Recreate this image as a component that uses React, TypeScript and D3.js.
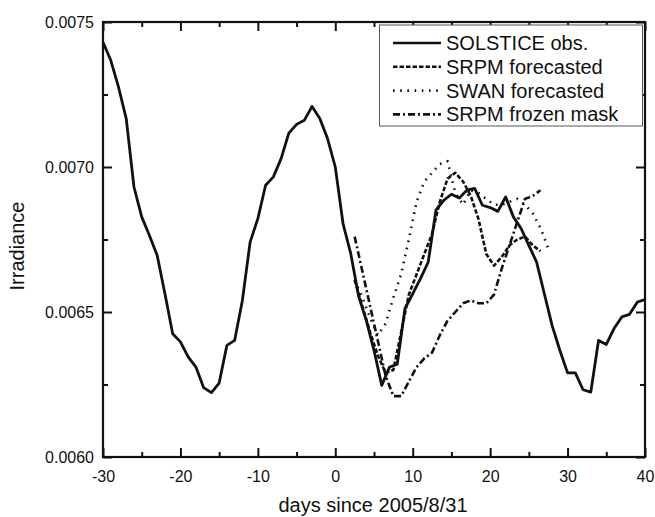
import React from 'react';
import * as d3 from 'd3';

const obsDays = [
  -30, -29, -28, -27, -26, -25, -24, -23, -22, -21, -20, -19, -18, -17, -16, -15, -14, -13, -12, -11,
  -10, -9, -8, -7, -6, -5, -4, -3, -2, -1, 0, 1, 2, 3, 4, 5, 6, 7, 8, 9,
  10, 11, 12, 13, 14, 15, 16, 17, 18, 19, 20, 21, 22, 23, 24, 25, 26, 27, 28, 29,
  30, 31, 32, 33, 34, 35, 36, 37, 38, 39, 40,
];
const solsticeObs = [
  0.00743, 0.007368, 0.007276, 0.007167, 0.006931, 0.006828, 0.006764, 0.006695, 0.006563, 0.006425,
  0.006397, 0.006345, 0.00631, 0.006239, 0.006222, 0.006255, 0.006385, 0.006402, 0.00654, 0.006741,
  0.006822, 0.006937, 0.006966, 0.007029, 0.007117, 0.007147, 0.007161, 0.007209, 0.007167, 0.007098,
  0.0070, 0.006805, 0.006701, 0.006556, 0.006471, 0.006368, 0.006247, 0.00631, 0.00632, 0.006512,
  0.006563, 0.006615, 0.006672, 0.006851, 0.006885, 0.006906, 0.006893, 0.00692, 0.006926, 0.006868,
  0.00686, 0.006847, 0.006897, 0.006828, 0.006788, 0.00673, 0.006672, 0.006563, 0.006454, 0.006368,
  0.00629, 0.00629, 0.006232, 0.006224, 0.006402, 0.006388, 0.006443, 0.006483, 0.006492, 0.006534,
  0.006543,
];

const forecastDays = [
  2.5, 3.5, 4.5, 5.5, 6.5, 7.5, 8.5, 9.5, 10.5, 11.5, 12.5, 13.5, 14.5, 15.5, 16.5, 17.5, 18.5,
  19.5, 20.5, 21.5, 22.5, 23.5, 24.5, 25.5, 26.5,
];
const swanDays = [
  2.5, 3.5, 4.5, 5.5, 6.5, 7.5, 8.5, 9.5, 10.5, 11.5, 12.5, 13.5, 14.5, 15.5, 16.5, 17.5, 18.5,
  19.5, 20.5, 21.5, 22.5, 23.5, 24.5, 25.5, 26.5, 27.5,
];
const srpmForecast = [
  0.00661, 0.00652, 0.00643, 0.00635, 0.00629, 0.0063, 0.00643, 0.00656, 0.00663, 0.0067, 0.00677,
  0.00688, 0.00696, 0.00698, 0.00695, 0.0069, 0.00682, 0.0067, 0.00666, 0.00669, 0.00673, 0.00675,
  0.00676, 0.00673, 0.00671,
];
const swanForecast = [
  0.00661, 0.00655, 0.00648, 0.00642, 0.00646, 0.00655, 0.00663, 0.00675, 0.00688, 0.00695, 0.00698,
  0.00701, 0.00702, 0.00691, 0.00687, 0.00692, 0.00691, 0.00689, 0.00687, 0.00687, 0.00688, 0.00689,
  0.00687, 0.00684, 0.00679, 0.00672,
];
const srpmFrozen = [
  0.00676, 0.00664, 0.00652, 0.0064, 0.00628, 0.00621, 0.00621, 0.00626, 0.00631, 0.00634, 0.00636,
  0.00642, 0.00647, 0.0065, 0.00653, 0.00654, 0.00653, 0.00653, 0.00656, 0.00665, 0.00673, 0.00681,
  0.00689, 0.0069, 0.00692,
];

const xMajor = [-30, -20, -10, 0, 10, 20, 30, 40];
const xMinor = [-25, -15, -5, 5, 15, 25, 35];
const yMajor = [0.006, 0.0065, 0.007, 0.0075];
const yMinor = [0.00625, 0.00675, 0.00725];

const legendLabels = ['SOLSTICE obs.', 'SRPM forecasted', 'SWAN forecasted', 'SRPM frozen mask'];
const dashes = ['none', '4.5,2', '1.6,5.6', '7,3,2,3'];

const App = () => {
  const ref = React.useRef<SVGSVGElement>(null);

  React.useEffect(() => {
    const svg = d3.select(ref.current);
    svg.selectAll('*').remove();

    const x = d3.scaleLinear().domain([-30, 40]).range([103, 645]);
    const y = d3.scaleLinear().domain([0.006, 0.0075]).range([457, 22]);
    const font = 'Liberation Sans, Arial, sans-serif';

    const series = [
      { days: obsDays, vals: solsticeObs },
      { days: forecastDays, vals: srpmForecast },
      { days: swanDays, vals: swanForecast },
      { days: forecastDays, vals: srpmFrozen },
    ];

    const plot = svg.append('g');
    series.forEach((s, i) => {
      const line = d3.line<number>()
        .x((_, j) => x(s.days[j]))
        .y(d => y(d));
      plot.append('path')
        .datum(s.vals)
        .attr('fill', 'none')
        .attr('stroke', '#111')
        .attr('stroke-width', i === 0 ? 2.8 : 2.6)
        .attr('stroke-dasharray', dashes[i])
        .attr('stroke-linejoin', 'round')
        .attr('d', line);
    });

    const axis = (gen: any, tx: number, ty: number, vals: number[], size: number, fmt: any) => {
      const g = svg.append('g')
        .attr('transform', `translate(${tx},${ty})`)
        .call(gen.tickValues(vals).tickSize(-size).tickSizeOuter(0).tickFormat(fmt));
      g.select('.domain').remove();
      g.selectAll('line').attr('stroke', '#111').attr('stroke-width', 2);
      g.selectAll('text').attr('font-family', font).attr('font-size', 16).attr('fill', '#111');
      return g;
    };

    const none = () => '';
    axis(d3.axisBottom(x).tickPadding(14), 0, 457, xMajor, 9, (d: number) => String(d));
    axis(d3.axisBottom(x), 0, 457, xMinor, 5, none);
    axis(d3.axisTop(x), 0, 22, xMajor, 9, none);
    axis(d3.axisTop(x), 0, 22, xMinor, 5, none);
    axis(d3.axisLeft(y).tickPadding(9), 103, 0, yMajor, 9, d3.format('.4f'));
    axis(d3.axisLeft(y), 103, 0, yMinor, 5, none);
    axis(d3.axisRight(y), 645, 0, yMajor, 9, none);
    axis(d3.axisRight(y), 645, 0, yMinor, 5, none);

    svg.append('rect')
      .attr('x', 103).attr('y', 22)
      .attr('width', 542).attr('height', 435)
      .attr('fill', 'none').attr('stroke', '#111').attr('stroke-width', 2.2);

    // legend
    const lg = svg.append('g');
    lg.append('rect')
      .attr('x', 379.5).attr('y', 25)
      .attr('width', 263).attr('height', 101)
      .attr('fill', 'white').attr('stroke', '#555').attr('stroke-width', 1);
    legendLabels.forEach((label, i) => {
      const yy = 43 + i * 23.8;
      lg.append('line')
        .attr('x1', 393).attr('x2', 441)
        .attr('y1', yy).attr('y2', yy)
        .attr('stroke', '#111').attr('stroke-width', 2.6)
        .attr('stroke-dasharray', dashes[i]);
      lg.append('text')
        .attr('x', 446).attr('y', yy + 7)
        .attr('font-family', font).attr('font-size', 20).attr('fill', '#111')
        .text(label);
    });

    svg.append('text')
      .attr('x', 373).attr('y', 512)
      .attr('text-anchor', 'middle')
      .attr('font-family', font).attr('font-size', 20).attr('fill', '#111')
      .text('days since 2005/8/31');

    svg.append('text')
      .attr('transform', 'translate(24,246) rotate(-90)')
      .attr('text-anchor', 'middle')
      .attr('font-family', font).attr('font-size', 20).attr('fill', '#111')
      .text('Irradiance');
  }, []);

  return (
    <svg ref={ref} width="655" height="517"
      style={{ position: 'absolute', left: 0, top: 0, background: 'white' }}></svg>
  );
};

export default App;
